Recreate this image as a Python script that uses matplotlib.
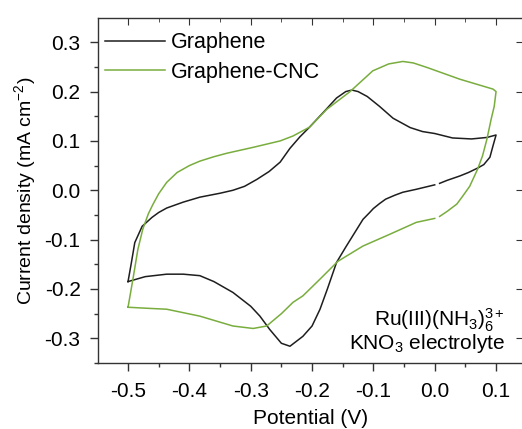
#!/usr/bin/env python
"""
Cyclic voltammograms of graphene and graphene-CNC electrodes.
"""

import numpy as np
import matplotlib
matplotlib.use("Agg")
import matplotlib.pyplot as plt
from matplotlib.ticker import MultipleLocator

plt.rcParams["font.family"] = ["Liberation Sans", "DejaVu Sans"]
plt.rcParams["mathtext.fontset"] = "custom"
plt.rcParams["mathtext.rm"] = "Liberation Sans"
plt.rcParams["mathtext.it"] = "Liberation Sans:italic"
plt.rcParams["mathtext.bf"] = "Liberation Sans:bold"

# Graphene: anodic sweep (-0.5 -> 0.1) then cathodic sweep back, nan = break in trace
graphene_v = [-0.5, -0.495, -0.489, -0.477, -0.461, -0.45, -0.437, -0.41, -0.383, -0.35,
              -0.329, -0.31, -0.29, -0.27, -0.252, -0.236, -0.22, -0.204, -0.18, -0.16,
              -0.145, -0.135, -0.125, -0.11, -0.09, -0.068, -0.04, -0.02, 0.0, 0.029,
              0.06, 0.085, 0.1,
              0.095, 0.09, 0.08, 0.07, 0.055, 0.041, 0.02, 0.008, np.nan,
              0.0, -0.03, -0.052, -0.065, -0.08, -0.09, -0.1, -0.106, -0.117, -0.127,
              -0.145, -0.16, -0.175, -0.187, -0.2, -0.215, -0.236, -0.25, -0.269, -0.285,
              -0.3, -0.329, -0.36, -0.383, -0.41, -0.437, -0.472, -0.5]
graphene_i = [-0.185, -0.15, -0.106, -0.073, -0.055, -0.045, -0.036, -0.024, -0.014, -0.006,
              0.0, 0.008, 0.022, 0.038, 0.057, 0.085, 0.108, 0.128, 0.16, 0.187,
              0.2, 0.203, 0.2, 0.19, 0.17, 0.146, 0.127, 0.119, 0.115, 0.106,
              0.104, 0.107, 0.112,
              0.09, 0.067, 0.052, 0.045, 0.036, 0.029, 0.02, 0.014, np.nan,
              0.011, 0.002, -0.004, -0.01, -0.018, -0.027, -0.037, -0.045, -0.059, -0.079,
              -0.115, -0.146, -0.2, -0.241, -0.275, -0.296, -0.316, -0.31, -0.282, -0.255,
              -0.235, -0.207, -0.185, -0.173, -0.17, -0.17, -0.175, -0.185]

cnc_v = [-0.5, -0.492, -0.484, -0.476, -0.467, -0.46, -0.45, -0.437, -0.42, -0.4,
         -0.383, -0.36, -0.339, -0.296, -0.252, -0.231, -0.204, -0.176, -0.138, -0.101,
         -0.075, -0.052, -0.035, -0.013, 0.041, 0.095, 0.1,
         0.097, 0.092, 0.085, 0.078, 0.07, 0.057, 0.045, 0.036, 0.02, 0.008, np.nan,
         0.0, -0.03, -0.073, -0.117, -0.158, -0.187, -0.215, -0.231, -0.25, -0.274,
         -0.296, -0.329, -0.383, -0.437, -0.47, -0.5]
cnc_i = [-0.237, -0.18, -0.12, -0.079, -0.048, -0.03, -0.007, 0.016, 0.036, 0.05,
         0.059, 0.068, 0.075, 0.087, 0.1, 0.11, 0.128, 0.164, 0.2, 0.242,
         0.256, 0.261, 0.258, 0.249, 0.225, 0.205, 0.2,
         0.17, 0.144, 0.103, 0.07, 0.043, 0.008, -0.013, -0.028, -0.043, -0.053, np.nan,
         -0.057, -0.065, -0.089, -0.113, -0.144, -0.18, -0.214, -0.227, -0.25, -0.275,
         -0.28, -0.275, -0.255, -0.241, -0.239, -0.237]

fig = plt.figure(figsize=(5.22, 4.29), dpi=100)
ax = fig.add_axes([0.1877, 0.1538, 0.8143, 0.8042])

ax.plot(graphene_v, graphene_i, color="#1e1e1e", lw=1.1, label="Graphene")
ax.plot(cnc_v, cnc_i, color="#79ad3e", lw=1.1, label="Graphene-CNC")

ax.set_xlim(-0.549, 0.144)
ax.set_ylim(-0.35, 0.349)
ax.xaxis.set_major_locator(MultipleLocator(0.1))
ax.xaxis.set_minor_locator(MultipleLocator(0.05))
ax.yaxis.set_major_locator(MultipleLocator(0.1))
ax.yaxis.set_minor_locator(MultipleLocator(0.05))
ax.xaxis.set_major_formatter(lambda v, p: f"{v:.1f}".replace("-0.0", "0.0"))
ax.yaxis.set_major_formatter(lambda v, p: f"{v:.1f}".replace("-0.0", "0.0"))

ax.tick_params(which="both", direction="out", labelsize=15, width=1, color="#333333",
               top=False, right=False)
ax.tick_params(which="major", length=5.5)
ax.tick_params(which="minor", length=3)
ax.tick_params(axis="x", which="major", pad=8)
ax.tick_params(axis="y", which="major", pad=7)
for s in ax.spines.values():
    s.set_color("#333333")
    s.set_linewidth(1)

# inward ticks on top and right
sec = ax.secondary_xaxis("top")
sec.xaxis.set_major_locator(MultipleLocator(0.1))
sec.xaxis.set_minor_locator(MultipleLocator(0.05))
sec.tick_params(which="both", direction="in", labeltop=False, color="#333333")
sec.tick_params(which="major", length=5)
sec.tick_params(which="minor", length=3)
sec.spines["top"].set_visible(False)
secy = ax.secondary_yaxis("right")
secy.yaxis.set_major_locator(MultipleLocator(0.1))
secy.tick_params(which="both", direction="in", labelright=False, length=5, color="#333333")
secy.spines["right"].set_visible(False)

ax.set_xlabel("Potential (V)", fontsize=15, labelpad=6)
ax.set_ylabel("Current density (mA cm$^{-2}$)", fontsize=14, labelpad=5)

ax.legend(loc="upper left", bbox_to_anchor=(0.0, 0.979), frameon=False, fontsize=15.5,
          handlelength=2.8, handletextpad=0.25, labelspacing=0.4, borderaxespad=0,
          borderpad=0.33)

ax.text(0.114, -0.276, r"Ru(III)(NH$_3$)$_6^{3+}$", ha="right", va="baseline", fontsize=15)
ax.text(0.114, -0.3225, r"KNO$_3$ electrolyte", ha="right", va="baseline", fontsize=15)

fig.savefig("out.png", dpi=100)
